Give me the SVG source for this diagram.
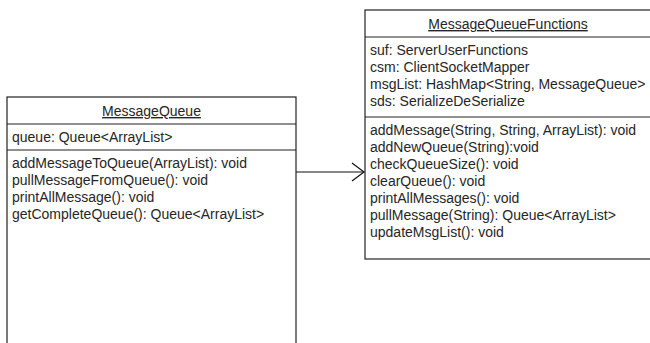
<svg xmlns="http://www.w3.org/2000/svg" width="650" height="343" viewBox="0 0 650 343">
  <style>
    .box { fill: #ffffff; stroke: #222222; stroke-width: 1.2; }
    .sep { stroke: #222222; stroke-width: 1.2; fill: none; }
    .txt { font-family: "Liberation Sans", Arial, Helvetica, sans-serif; font-size: 14px; fill: #262626; }
    .title { text-anchor: middle; text-decoration: underline; }
    .edge { stroke: #111111; stroke-width: 1.2; fill: none; }
  </style>
  <rect width="650" height="343" fill="#ffffff"/>

  <g id="connectors">
    <line class="edge" x1="296" y1="172" x2="364" y2="172"/>
    <polyline class="edge" points="352,163 364,172 352,181"/>
  </g>

  <g id="MessageQueue">
    <rect class="box" x="7" y="97" width="289" height="270"/>
    <line class="sep" x1="7" y1="124" x2="296" y2="124"/>
    <line class="sep" x1="7" y1="150" x2="296" y2="150"/>
    <text class="txt title" x="151.5" y="116">MessageQueue</text>
    <text class="txt" x="12" y="142">queue: Queue&lt;ArrayList&gt;</text>
    <text class="txt" x="12" y="168">addMessageToQueue(ArrayList): void</text>
    <text class="txt" x="12" y="185">pullMessageFromQueue(): void</text>
    <text class="txt" x="12" y="202">printAllMessage(): void</text>
    <text class="txt" x="12" y="219">getCompleteQueue(): Queue&lt;ArrayList&gt;</text>
  </g>

  <g id="MessageQueueFunctions">
    <rect class="box" x="365" y="10" width="286" height="249"/>
    <line class="sep" x1="365" y1="37" x2="651" y2="37"/>
    <line class="sep" x1="365" y1="117" x2="651" y2="117"/>
    <text class="txt title" x="508" y="29">MessageQueueFunctions</text>
    <text class="txt" x="370" y="55">suf: ServerUserFunctions</text>
    <text class="txt" x="370" y="72">csm: ClientSocketMapper</text>
    <text class="txt" x="370" y="89">msgList: HashMap&lt;String, MessageQueue&gt;</text>
    <text class="txt" x="370" y="106">sds: SerializeDeSerialize</text>
    <text class="txt" x="370" y="135">addMessage(String, String, ArrayList): void</text>
    <text class="txt" x="370" y="152">addNewQueue(String):void</text>
    <text class="txt" x="370" y="169">checkQueueSize(): void</text>
    <text class="txt" x="370" y="186">clearQueue(): void</text>
    <text class="txt" x="370" y="203">printAllMessages(): void</text>
    <text class="txt" x="370" y="220">pullMessage(String): Queue&lt;ArrayList&gt;</text>
    <text class="txt" x="370" y="237">updateMsgList(): void</text>
  </g>
</svg>
